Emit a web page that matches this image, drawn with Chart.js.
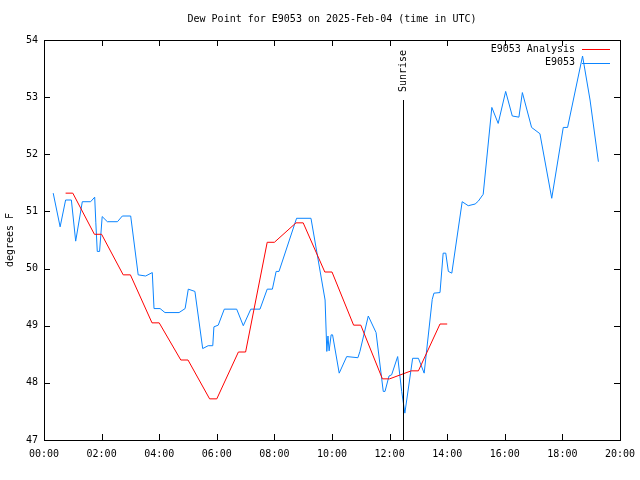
<!DOCTYPE html>
<html>
<head>
<meta charset="utf-8">
<script src="https://cdn.jsdelivr.net/npm/chart.js@4/dist/chart.umd.min.js"></script>
<style>
  html, body { margin: 0; padding: 0; background: #fff; }
  canvas { display: block; }
</style>
</head>
<body>
<canvas id="chart" width="640" height="480"></canvas>
<script>
// hours since 00:00 UTC
const analysisTimes = [0.75, 1.0, 1.75, 2.0, 2.75, 3.0, 3.75, 4.0, 4.75, 5.0, 5.75, 6.0, 6.75, 7.0,
  7.75, 8.0, 8.75, 9.0, 9.75, 10.0, 10.75, 11.0, 11.75, 12.0, 12.75, 13.0, 13.75, 14.0];
const analysisValues = [51.32, 51.32, 50.60, 50.60, 49.89, 49.89, 49.05, 49.05, 48.40, 48.40, 47.72, 47.72, 48.54, 48.54,
  50.46, 50.46, 50.80, 50.80, 49.94, 49.94, 49.01, 49.01, 48.07, 48.07, 48.21, 48.21, 49.03, 49.03];

const obsTimes = [0.32, 0.56, 0.75, 0.95, 1.10, 1.33, 1.62, 1.76, 1.80, 1.85, 1.93, 2.02, 2.20, 2.55, 2.72, 3.01,
  3.27, 3.53, 3.76, 3.82, 4.03, 4.20, 4.69, 4.90, 5.01, 5.24, 5.51, 5.70, 5.86, 5.90, 6.05, 6.26, 6.69,
  6.92, 7.18, 7.50, 7.75, 7.93, 8.06, 8.16, 8.77, 9.27, 9.76, 9.82, 9.86, 9.90, 9.97, 10.02, 10.25, 10.51,
  10.90, 10.97, 11.26, 11.53, 11.78, 11.84, 11.98, 12.07, 12.28, 12.42, 12.53, 12.80, 13.00, 13.20, 13.48,
  13.54, 13.75, 13.86, 13.95, 14.04, 14.16, 14.52, 14.73, 14.97, 15.08, 15.25, 15.55, 15.77, 16.03, 16.26,
  16.49, 16.61, 16.93, 17.22, 17.63, 18.03, 18.18, 18.70, 18.96, 19.25];
const obsValues = [51.32, 50.73, 51.20, 51.20, 50.48, 51.17, 51.17, 51.25, 50.80, 50.30, 50.30, 50.91, 50.82, 50.82, 50.92, 50.92,
  49.89, 49.87, 49.93, 49.30, 49.30, 49.23, 49.23, 49.30, 49.64, 49.60, 48.60, 48.65, 48.65, 48.98, 49.01, 49.29, 49.29,
  49.00, 49.29, 49.29, 49.64, 49.64, 49.95, 49.95, 50.88, 50.88, 49.45, 48.55, 48.82, 48.56, 48.84, 48.84, 48.17, 48.46,
  48.44, 48.55, 49.17, 48.88, 47.85, 47.85, 48.12, 48.14, 48.46, 47.85, 47.47, 48.43, 48.43, 48.17, 49.46,
  49.57, 49.58, 50.27, 50.27, 49.95, 49.92, 51.17, 51.10, 51.13, 51.18, 51.30, 52.82, 52.54, 53.10, 52.67,
  52.65, 53.08, 52.47, 52.36, 51.23, 52.47, 52.47, 53.72, 52.95, 51.87];

const sunrise = 12.45;
const sunriseTop = 52.95;

const FONT = "'DejaVu Sans Mono', 'Liberation Mono', monospace";

const toPoints = (xs, ys) => xs.map((x, i) => ({ x: x, y: ys[i] }));

const framePlugin = {
  id: 'frame',
  afterDraw(chart) {
    const { ctx, chartArea: a, scales } = chart;
    const x = scales.x, y = scales.y;
    ctx.save();
    ctx.strokeStyle = '#000';
    ctx.lineWidth = 1;
    ctx.strokeRect(a.left + 0.5, a.top + 0.5, a.right - a.left, a.bottom - a.top);

    // inward ticks on all four sides
    ctx.beginPath();
    x.ticks.forEach(t => {
      const px = Math.round(x.getPixelForValue(t.value)) + 0.5;
      ctx.moveTo(px, a.bottom); ctx.lineTo(px, a.bottom - 6);
      ctx.moveTo(px, a.top); ctx.lineTo(px, a.top + 6);
    });
    y.ticks.forEach(t => {
      const py = Math.round(y.getPixelForValue(t.value)) + 0.5;
      ctx.moveTo(a.left, py); ctx.lineTo(a.left + 6, py);
      ctx.moveTo(a.right, py); ctx.lineTo(a.right - 6, py);
    });
    ctx.stroke();

    // sunrise marker
    const sx = Math.round(x.getPixelForValue(sunrise)) + 0.5;
    ctx.beginPath();
    ctx.moveTo(sx, y.getPixelForValue(sunriseTop));
    ctx.lineTo(sx, a.bottom);
    ctx.stroke();
    ctx.fillStyle = '#000';
    ctx.font = '10px ' + FONT;
    ctx.save();
    ctx.translate(sx, y.getPixelForValue(sunriseTop) - 8);
    ctx.rotate(-Math.PI / 2);
    ctx.textAlign = 'left';
    ctx.textBaseline = 'middle';
    ctx.fillText('Sunrise', 0, 0);
    ctx.restore();

    // title
    ctx.textAlign = 'center';
    ctx.textBaseline = 'middle';
    ctx.fillText('Dew Point for E9053 on 2025-Feb-04 (time in UTC)', (a.left + a.right) / 2, 19);

    // y axis title
    ctx.save();
    ctx.translate(10, (a.top + a.bottom) / 2);
    ctx.rotate(-Math.PI / 2);
    ctx.fillText('degrees F', 0, 0);
    ctx.restore();

    // legend
    chart.data.datasets.forEach((ds, i) => {
      const ly = 49 + i * 13.5;
      ctx.textAlign = 'right';
      ctx.fillText(ds.label, 575, ly);
      ctx.strokeStyle = ds.borderColor;
      ctx.beginPath();
      ctx.moveTo(582, Math.round(ly) + 0.5);
      ctx.lineTo(610, Math.round(ly) + 0.5);
      ctx.stroke();
    });
    ctx.restore();
  }
};

new Chart(document.getElementById('chart'), {
  type: 'line',
  data: {
    datasets: [
      {
        label: 'E9053 Analysis',
        data: toPoints(analysisTimes, analysisValues),
        borderColor: '#ff0000',
        borderWidth: 1,
        pointRadius: 0,
        tension: 0
      },
      {
        label: 'E9053',
        data: toPoints(obsTimes, obsValues),
        borderColor: '#0a84ff',
        borderWidth: 1,
        pointRadius: 0,
        tension: 0
      }
    ]
  },
  options: {
    responsive: false,
    animation: false,
    devicePixelRatio: 1,
    layout: { padding: { left: 0, right: 20, top: 40, bottom: 0 } },
    plugins: {
      legend: { display: false },
      title: { display: false },
      tooltip: { enabled: false }
    },
    scales: {
      x: {
        type: 'linear',
        min: 0,
        max: 20,
        grid: { display: false, drawTicks: false },
        border: { display: false },
        afterFit: s => { s.height = 40; s.paddingLeft = 0; s.paddingRight = 0; },
        ticks: {
          stepSize: 2,
          padding: 8,
          color: '#000',
          font: { family: FONT, size: 10 },
          maxRotation: 0,
          callback: v => String(v).padStart(2, '0') + ':00'
        }
      },
      y: {
        min: 47,
        max: 54,
        grid: { display: false, drawTicks: false },
        border: { display: false },
        afterFit: s => { s.width = 44; s.paddingTop = 0; s.paddingBottom = 0; },
        ticks: {
          stepSize: 1,
          padding: 6,
          color: '#000',
          font: { family: FONT, size: 10 }
        }
      }
    }
  },
  plugins: [framePlugin]
});
</script>
</body>
</html>
